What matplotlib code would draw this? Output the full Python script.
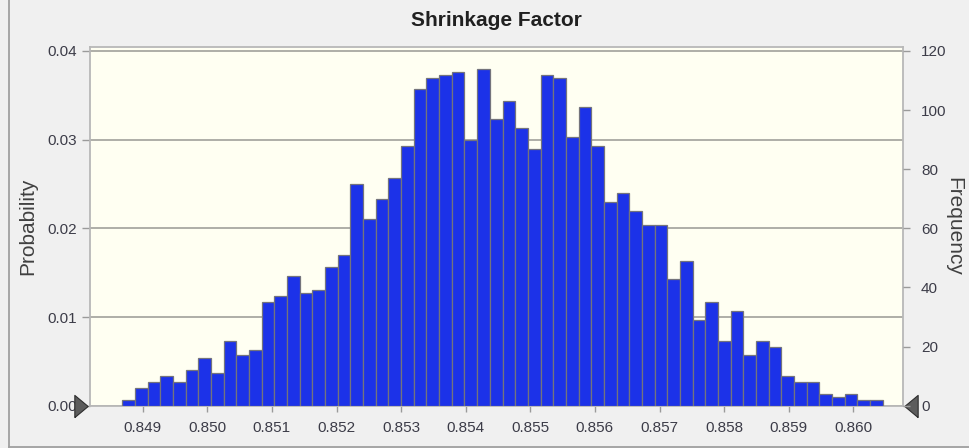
import numpy as np
import matplotlib
matplotlib.use("Agg")
import matplotlib.pyplot as plt
from matplotlib.lines import Line2D
from matplotlib.transforms import blended_transform_factory

plt.rcParams['font.family'] = ['Liberation Sans', 'DejaVu Sans']

# Simulation results: counts per bin for the forecast "Shrinkage Factor"
title = "Shrinkage Factor"
trials = 3000
bin_lo, bin_hi = 0.848684, 0.860455
freq = [2, 6, 8, 10, 8, 12, 16, 11, 22, 17, 19, 35, 37, 44,
        38, 39, 47, 51, 75, 63, 70, 77, 88, 107, 111, 112, 113, 90, 114, 97, 103,
        94, 87, 112, 111, 91, 101, 88, 69, 72, 66, 61, 61, 43, 49, 29, 35, 22,
        32, 17, 22, 20, 10, 8, 8, 4, 3, 4, 2, 2]
x_ticks = [0.849, 0.850, 0.851, 0.852, 0.853, 0.854, 0.855, 0.856, 0.857, 0.858, 0.859, 0.860]
prob_ticks = [0.00, 0.01, 0.02, 0.03, 0.04]
freq_ticks = [0, 20, 40, 60, 80, 100, 120]

edges = np.linspace(bin_lo, bin_hi, len(freq) + 1)
prob = np.array(freq) / trials

W, H = 969, 448
fig = plt.figure(figsize=(W / 100, H / 100), dpi=100, facecolor='#f0f0f0')
ax = fig.add_axes([90 / W, 42.3 / H, 813 / W, 358.7 / H])
ax.set_facecolor('#fffff2')

ax.bar(edges[:-1], prob, width=np.diff(edges), align='edge',
       color='#1c32e8', edgecolor='#74747c', linewidth=0.9, zorder=3)

x_lo, x_hi = 0.8481842, 0.860769
ax.set_xlim(x_lo, x_hi)
p_top = 0.04 * 121.35 / 120
ax.set_ylim(0, p_top)

ax.set_xticks(x_ticks)
ax.set_xticklabels([f"{t:.3f}" for t in x_ticks])
ax.set_yticks(prob_ticks)
ax.set_yticklabels([f"{t:.2f}" for t in prob_ticks])

txt = '#3c3c48'
ax.tick_params(axis='x', length=4, width=1, color='#9a9a9a', pad=7,
               labelsize=11, labelcolor=txt)
ax.tick_params(axis='y', length=6, width=1, color='#9a9a9a', pad=3.5,
               labelsize=11, labelcolor=txt)

ax.yaxis.grid(True, color='#a8a8a2', linewidth=1.3, zorder=1)
ax.set_axisbelow(True)
for s in ax.spines.values():
    s.set_color('#b8b8b8')
    s.set_linewidth(1.3)

ax2 = ax.twinx()
ax2.set_ylim(0, p_top * trials)
ax2.set_yticks(freq_ticks)
ax2.tick_params(axis='y', length=5, width=1, color='#9a9a9a', pad=8,
                labelsize=11, labelcolor=txt)
for s in ax2.spines.values():
    s.set_visible(False)

ax.set_ylabel("Probability", fontsize=15, color='#404040', labelpad=7)
ax2.set_ylabel("Frequency", fontsize=15, color='#404040', rotation=-90, labelpad=14)
ax2.yaxis.set_label_coords(1.0735, 0.5)
ax.set_title(title, fontsize=15, fontweight='bold', color='#202020', pad=15)

# certainty grabbers at both ends of the value axis
tri_r = [(-0.6, -1), (0.6, 0), (-0.6, 1), (-0.6, -1)]
tri_l = [(0.6, -1), (-0.6, 0), (0.6, 1), (0.6, -1)]
bt = blended_transform_factory(ax.transAxes, ax.transData)
ax.plot([-0.0105], [0], marker=tri_r, markersize=16, color='#5c5c5c',
        markeredgecolor='#2e2e2e', markeredgewidth=0.8, transform=bt,
        clip_on=False, zorder=6)
ax.plot([1.0098], [0], marker=tri_l, markersize=16, color='#5c5c5c',
        markeredgecolor='#2e2e2e', markeredgewidth=0.8, transform=bt,
        clip_on=False, zorder=6)

# window frame lines
fig.add_artist(Line2D([9 / W, 9 / W], [1.5 / H, 1], color='#a0a0a0', linewidth=1.3))
fig.add_artist(Line2D([9 / W, 1], [1.5 / H, 1.5 / H], color='#a0a0a0', linewidth=1.3))

fig.savefig("out.png", dpi=100, facecolor=fig.get_facecolor())
